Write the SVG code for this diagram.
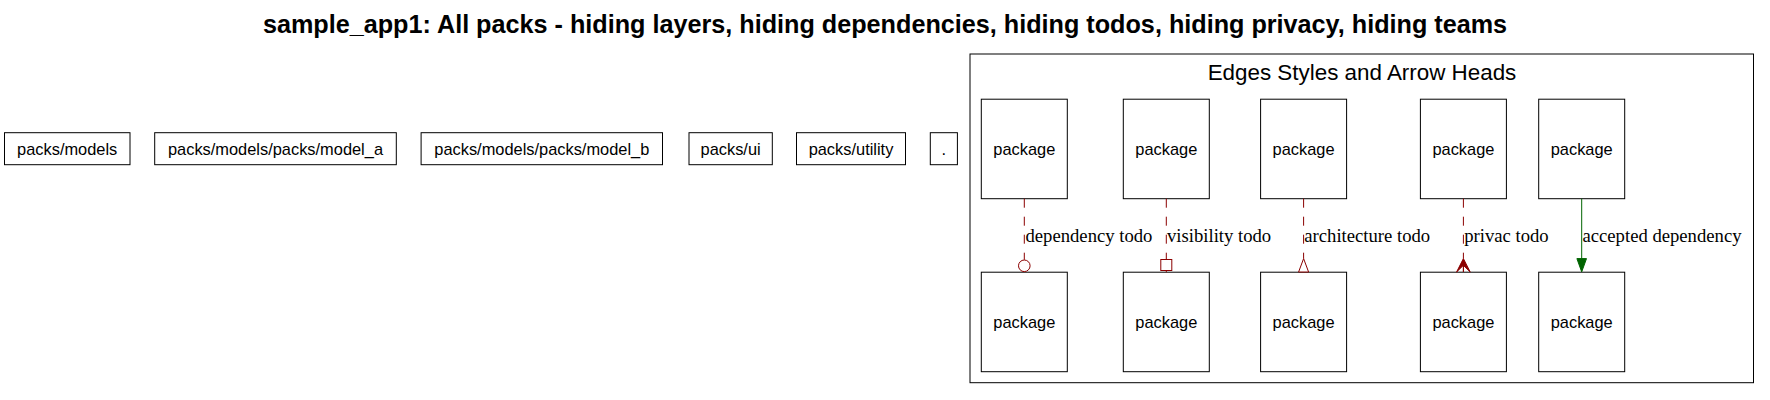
<svg xmlns="http://www.w3.org/2000/svg" width="1770" height="400" viewBox="0 0 1770 400">
<style>
.bg{fill:#ffffff}
.node rect{fill:#ffffff;stroke:#000000;stroke-width:1}
.node text{font-family:"Liberation Sans",Arial,Helvetica,sans-serif;font-size:16.4px;text-anchor:middle;fill:#000000}
.title{font-family:"Liberation Sans",Arial,Helvetica,sans-serif;font-size:25.2px;font-weight:bold;text-anchor:middle;fill:#000000}
.cl rect{fill:none;stroke:#000000;stroke-width:1}
.cl text{font-family:"Liberation Sans",Arial,Helvetica,sans-serif;font-size:22.4px;text-anchor:middle;fill:#000000}
.todo{stroke:#8b0000;stroke-width:1;fill:none;stroke-dasharray:9,9}
.ok{stroke:#006400;stroke-width:1;fill:none}
.hd{stroke:#8b0000;stroke-width:1;fill:#ffffff}
.hdf{stroke:#8b0000;stroke-width:1;fill:#8b0000}
.hdg{stroke:#006400;stroke-width:1;fill:#006400}
.elabel{font-family:"Liberation Serif","Times New Roman",serif;font-size:18.67px;fill:#000000}
</style>
<rect class="bg" x="0" y="0" width="1770" height="400"/>
<text class="title" x="885" y="33">sample_app1: All packs - hiding layers, hiding dependencies, hiding todos, hiding privacy, hiding teams</text>

<g id="n_models" class="node"><rect x="4.5" y="132.7" width="125.5" height="32"/><text x="67.2" y="154.6">packs/models</text></g>
<g id="n_model_a" class="node"><rect x="154.7" y="132.7" width="241.6" height="32"/><text x="275.5" y="154.6">packs/models/packs/model_a</text></g>
<g id="n_model_b" class="node"><rect x="421.1" y="132.7" width="241.4" height="32"/><text x="541.8" y="154.6">packs/models/packs/model_b</text></g>
<g id="n_ui" class="node"><rect x="689" y="132.7" width="83.3" height="32"/><text x="730.6" y="154.6">packs/ui</text></g>
<g id="n_utility" class="node"><rect x="796.5" y="132.7" width="109" height="32"/><text x="851" y="154.6">packs/utility</text></g>
<g id="n_root" class="node"><rect x="930.3" y="132.7" width="27.1" height="32"/><text x="943.8" y="154.6">.</text></g>

<g id="legend" class="cl">
<rect x="970" y="54" width="783.5" height="328.7"/>
<text x="1362" y="80">Edges Styles and Arrow Heads</text>
</g>

<g id="l_a1" class="node"><rect x="981.3" y="99.2" width="86" height="99.5"/><text x="1024.3" y="154.6">package</text></g>
<g id="l_b1" class="node"><rect x="1123.3" y="99.2" width="86" height="99.5"/><text x="1166.3" y="154.6">package</text></g>
<g id="l_c1" class="node"><rect x="1260.6" y="99.2" width="86" height="99.5"/><text x="1303.6" y="154.6">package</text></g>
<g id="l_d1" class="node"><rect x="1420.4" y="99.2" width="86" height="99.5"/><text x="1463.4" y="154.6">package</text></g>
<g id="l_e1" class="node"><rect x="1538.7" y="99.2" width="86" height="99.5"/><text x="1581.7" y="154.6">package</text></g>

<g id="l_a2" class="node"><rect x="981.3" y="272.2" width="86" height="99.5"/><text x="1024.3" y="327.6">package</text></g>
<g id="l_b2" class="node"><rect x="1123.3" y="272.2" width="86" height="99.5"/><text x="1166.3" y="327.6">package</text></g>
<g id="l_c2" class="node"><rect x="1260.6" y="272.2" width="86" height="99.5"/><text x="1303.6" y="327.6">package</text></g>
<g id="l_d2" class="node"><rect x="1420.4" y="272.2" width="86" height="99.5"/><text x="1463.4" y="327.6">package</text></g>
<g id="l_e2" class="node"><rect x="1538.7" y="272.2" width="86" height="99.5"/><text x="1581.7" y="327.6">package</text></g>

<g id="connectors">
<path class="todo" d="M1024.3,198.7 V259.8"/>
<circle class="hd" cx="1024.3" cy="265.8" r="5.8"/>
<text class="elabel" x="1025.5" y="242.3">dependency todo</text>

<path class="todo" d="M1166.3,198.7 V259.5"/>
<rect class="hd" x="1160.8" y="259.5" width="11" height="11"/>
<path stroke="#8b0000" stroke-width="1" d="M1166.3,270.5 V272.2"/>
<text class="elabel" x="1167" y="242.3">visibility todo</text>

<path class="todo" d="M1303.6,198.7 V258.6"/>
<path class="hd" d="M1303.6,258.6 L1308.6,272 L1298.6,272 Z"/>
<text class="elabel" x="1304.3" y="242.3">architecture todo</text>

<path class="todo" d="M1463.4,198.7 V258.6"/>
<path class="hdf" d="M1463.4,258.6 L1456.6,272 L1463.4,265.3 L1463.4,272 L1463.4,265.3 L1470.2,272 Z"/>
<text class="elabel" x="1464.2" y="242.3">privac todo</text>

<path class="ok" d="M1581.7,198.7 V258.6"/>
<path class="hdg" d="M1576.9,258.6 L1586.5,258.6 L1581.7,271.9 Z"/>
<text class="elabel" x="1582.5" y="242.3">accepted dependency</text>
</g>
</svg>
